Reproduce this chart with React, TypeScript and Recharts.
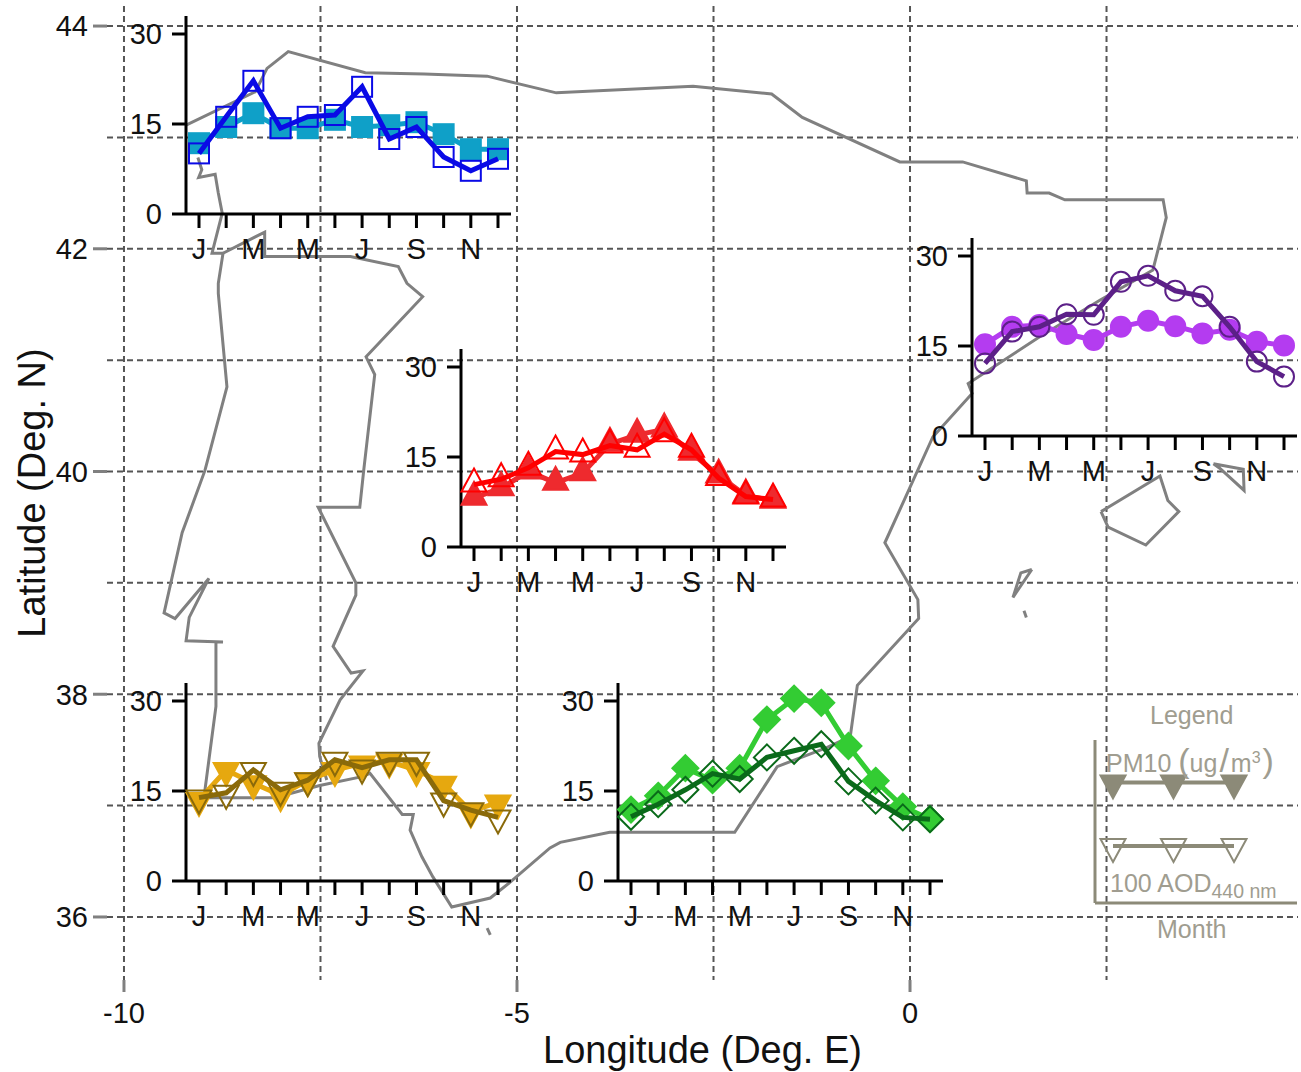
import React from 'react';
import {
  CartesianGrid,
  Line,
  LineChart,
  Scatter,
  ScatterChart,
  XAxis,
  YAxis,
} from 'recharts';

const FONT = '"Liberation Sans", Arial, sans-serif';

// map grid and ticks
const lonGrid = [-10, -7.5, -5, -2.5, 0, 2.5];
const latGrid = [36, 37, 38, 39, 40, 41, 42, 43, 44];
const lonTicks = [-10, -5, 0];
const latTicks = [36, 38, 40, 42, 44];

// coastline, [lon, lat]
const northAndEastCoast = [
  [-9.21, 43.11], [-8.33, 43.41], [-8.18, 43.62], [-7.91, 43.77], [-6.93, 43.58], [-6.18, 43.57],
  [-5.38, 43.55], [-4.5, 43.4], [-2.76, 43.46], [-1.76, 43.39], [-1.37, 43.18], [-0.13, 42.78],
  [0.67, 42.78], [1.48, 42.61], [1.49, 42.5], [1.77, 42.5], [1.97, 42.44], [3.22, 42.44],
  [3.26, 42.28], [3.22, 42.17], [3.09, 41.81], [2.42, 41.54], [1.65, 41.21], [0.74, 40.79],
  [0.79, 40.7], [0.29, 40.31], [-0.32, 39.36], [0.1, 38.85], [0.11, 38.68], [-0.67, 38.08],
  [-0.76, 37.62], [-1.06, 37.52], [-1.69, 37.35], [-2.23, 36.76], [-3.82, 36.76], [-4.45, 36.67],
  [-4.58, 36.62], [-5.09, 36.31], [-5.34, 36.17], [-5.83, 36.09], [-6.07, 36.36], [-6.21, 36.54],
  [-6.36, 36.78], [-6.32, 36.92], [-6.46, 36.92], [-6.87, 37.29], [-6.97, 37.26], [-7.51, 37.18],
  [-8.08, 37.07], [-8.93, 37.07], [-8.97, 37.14], [-8.83, 37.89], [-8.83, 38.47], [-8.74, 38.47],
  [-9.21, 38.48], [-9.17, 38.69], [-8.92, 39.04], [-9.35, 38.68], [-9.49, 38.73], [-9.26, 39.45],
  [-8.97, 40.01], [-8.69, 40.76], [-8.8, 41.6], [-8.8, 41.69], [-8.74, 41.96], [-8.88, 41.96],
  [-8.75, 42.32], [-8.8, 42.5], [-8.84, 42.67], [-9.05, 42.64], [-9.01, 42.71], [-9.06, 42.82],
];
const portugalBorder = [
  [-8.74, 41.96], [-8.21, 42.15], [-8.21, 41.93], [-7.12, 41.93], [-6.51, 41.84], [-6.4, 41.69],
  [-6.2, 41.57], [-6.92, 41.03], [-6.81, 40.87], [-6.95, 40.01], [-7.0, 39.68], [-7.53, 39.68],
  [-7.05, 39.0], [-7.05, 38.89], [-7.34, 38.43], [-7.11, 38.19], [-6.96, 38.21], [-7.25, 37.95],
  [-7.52, 37.56], [-7.51, 37.44], [-7.42, 37.23],
];
const ceuta = [[-5.38, 35.9], [-5.34, 35.84]];
const mallorca = [
  [2.43, 39.64], [3.18, 39.96], [3.28, 39.74], [3.42, 39.64], [3.0, 39.34], [2.52, 39.5], [2.43, 39.64],
];
const menorca = [[3.86, 40.07], [4.24, 40.02], [4.25, 39.83], [3.94, 40.03], [3.86, 40.07]];
const ibiza = [[1.55, 39.12], [1.41, 39.09], [1.31, 38.87], [1.55, 39.12]];
const formentera = [[1.45, 38.75], [1.48, 38.69]];
const coastParts = [northAndEastCoast, portugalBorder, ceuta, mallorca, menorca, ibiza, formentera];

// inset charts
const months = ['Jan', 'Feb', 'Mar', 'Apr', 'May', 'Jun', 'Jul', 'Aug', 'Sep', 'Oct', 'Nov', 'Dec'];
const monthLabels = ['J', '', 'M', '', 'M', '', 'J', '', 'S', '', 'N', ''];
const insetTicks = [0, 15, 30];

const bluePm10 = [11.8, 14.5, 16.8, 14.3, 14.3, 15.7, 14.5, 14.8, 15.3, 13.3, 10.8, 10.8];
const blueAod = [10.1, 16.2, 22.2, 14.3, 16.2, 16.5, 21.2, 12.5, 14.5, 9.5, 7.2, 9.2];
const purplePm10 = [15.3, 18.2, 18.5, 17.0, 16.0, 18.2, 19.2, 18.3, 17.1, 17.7, 15.7, 15.1];
const purpleAod = [12.1, 17.4, 18.2, 20.3, 20.2, 25.7, 26.7, 24.2, 23.3, 18.2, 12.4, 9.9];
const redPm10 = [8.2, 9.8, 12.6, 10.7, 12.3, 17.2, 18.7, 19.6, 15.7, 11.9, 8.6, 7.7];
const redAod = [10.4, 11.3, 13.2, 15.9, 15.4, 16.9, 16.2, 18.8, 16.2, 11.5, 8.4, 7.9];
const goldPm10 = [13.5, 18.5, 16.3, 14.3, 16.8, 18.5, 19.6, 19.9, 18.5, 16.2, 11.6, 13.1];
const goldAod = [13.9, 14.7, 18.5, 15.2, 16.8, 20.2, 18.9, 20.2, 20.2, 13.4, 11.8, 10.6];
const greenPm10 = [11.9, 14.2, 18.8, 16.8, 18.8, 26.9, 30.4, 29.7, 22.5, 16.7, 12.4, 10.3];
const greenAod = [10.7, 12.8, 15.2, 17.9, 17.0, 20.6, 21.7, 22.8, 16.6, 13.4, 10.6, 10.3];

// legend sample
const legendPoints = ['a', 'b', 'c'];
const legendPm10 = [74, 74, 74];
const legendAod = [35, 35, 35];

const toPoints = (part: number[][]) => part.map(([lon, lat]) => ({ lon, lat }));

function Marker({ kind, cx, cy, fill, stroke }: any) {
  const common = { fill, stroke, strokeWidth: 2 };
  if (kind === 'square') return <rect x={cx - 10} y={cy - 10} width={20} height={20} {...common} />;
  if (kind === 'circle') return <circle cx={cx} cy={cy} r={10} {...common} />;
  if (kind === 'up') return <path d={`M${cx} ${cy - 16}L${cx + 12.5} ${cy + 7}L${cx - 12.5} ${cy + 7}Z`} {...common} />;
  if (kind === 'down') return <path d={`M${cx} ${cy + 16}L${cx + 12.5} ${cy - 7}L${cx - 12.5} ${cy - 7}Z`} {...common} />;
  return <path d={`M${cx} ${cy - 13}L${cx + 13} ${cy}L${cx} ${cy + 13}L${cx - 13} ${cy}Z`} {...common} />;
}

const dotOf = (kind: string, fill: string, stroke: string) => (props: any) => (
  <Marker key={props.index} kind={kind} cx={props.cx} cy={props.cy} fill={fill} stroke={stroke} />
);

const axisStroke = { stroke: '#000', strokeWidth: 3 };
const X_PADDING = { left: 13, right: 13 };
const Y_DOMAIN = [0, 33];

function Inset({ axisX, zeroY, pm10, aod, kind, pmColor, aodColor }: any) {
  const data = months.map((month, i) => ({ month, pm10: pm10[i], aod: aod[i] }));
  const box: React.CSSProperties = { position: 'absolute', left: axisX - 60, top: zeroY - 218 };
  return (
    <>
      <div style={box}>
        <LineChart width={415} height={274} data={data} margin={{ top: 20, right: 30, bottom: 0, left: 0 }}>
          <XAxis
            dataKey="month"
            height={56}
            padding={X_PADDING}
            interval={0}
            tickSize={14}
            tickMargin={10}
            axisLine={axisStroke}
            tickLine={axisStroke}
            tick={{ fontSize: 29, fill: '#111', fontFamily: FONT }}
            tickFormatter={(_: string, i: number) => monthLabels[i]}
          />
          <YAxis
            width={60}
            domain={Y_DOMAIN}
            ticks={insetTicks}
            tickSize={14}
            tickMargin={10}
            axisLine={axisStroke}
            tickLine={axisStroke}
            tick={{ fontSize: 29, fill: '#111', fontFamily: FONT }}
          />
          <Line
            dataKey="pm10"
            stroke={pmColor}
            strokeWidth={5}
            dot={dotOf(kind, pmColor, pmColor)}
            isAnimationActive={false}
          />
        </LineChart>
      </div>
      {/* second layer, the AOD line has to sit on top of the filled PM10 markers */}
      <div style={box}>
        <LineChart width={415} height={274} data={data} margin={{ top: 20, right: 30, bottom: 56, left: 60 }}>
          <XAxis dataKey="month" hide padding={X_PADDING} />
          <YAxis hide domain={Y_DOMAIN} />
          <Line
            dataKey="aod"
            stroke={aodColor}
            strokeWidth={5}
            dot={dotOf(kind, 'none', aodColor)}
            isAnimationActive={false}
          />
        </LineChart>
      </div>
    </>
  );
}

function LegendPanel() {
  const data = legendPoints.map((p, i) => ({ p, pm10: legendPm10[i], aod: legendAod[i] }));
  const color = '#8c8a78';
  const axis = { stroke: color, strokeWidth: 3 };
  const text: React.CSSProperties = { position: 'absolute', whiteSpace: 'nowrap', color: '#a09d90', fontSize: 25, lineHeight: '30px' };
  return (
    <>
      <div style={{ position: 'absolute', left: 1090, top: 740 }}>
        <LineChart width={207} height={168} data={data} margin={{ top: 0, right: 0, bottom: 0, left: 0 }}>
          <XAxis dataKey="p" height={5} padding={{ left: 18, right: 63 }} tick={false} tickLine={false} axisLine={axis} />
          <YAxis width={5} domain={[0, 100]} tick={false} tickLine={false} axisLine={axis} />
          <Line dataKey="pm10" stroke={color} strokeWidth={4} dot={dotOf('down', color, color)} isAnimationActive={false} />
          <Line dataKey="aod" stroke={color} strokeWidth={4} dot={dotOf('down', 'none', color)} isAnimationActive={false} />
        </LineChart>
      </div>
      <div style={{ ...text, left: 1150, top: 700 }}>Legend</div>
      <div style={{ ...text, left: 1106, top: 745 }}>
        PM10 <span style={{ fontSize: 34 }}>(</span>ug<span style={{ fontSize: 34, margin: '0 2px' }}>/</span>m
        <sup style={{ fontSize: 16, lineHeight: 0 }}>3</sup>
        <span style={{ fontSize: 34, marginLeft: 2 }}>)</span>
      </div>
      <div style={{ ...text, left: 1110, top: 868 }}>
        100 AOD<sub style={{ fontSize: 19.5, lineHeight: 0 }}>440 nm</sub>
      </div>
      <div style={{ ...text, left: 1157, top: 914 }}>Month</div>
    </>
  );
}

export default function App() {
  return (
    <div style={{ position: 'absolute', left: 0, top: 0, width: 1301, height: 1072, overflow: 'hidden', background: '#fff', fontFamily: FONT }}>
      <div style={{ position: 'absolute', left: 0, top: 0 }}>
        <ScatterChart width={1301} height={1072} margin={{ top: 6, right: 3, bottom: 0, left: 0 }}>
          <CartesianGrid
            stroke="#555"
            strokeWidth={2}
            strokeDasharray="6 4"
            verticalValues={lonGrid}
            horizontalValues={latGrid}
          />
          <XAxis
            type="number"
            dataKey="lon"
            domain={[-10.216, 4.936]}
            ticks={lonTicks}
            height={92}
            tickSize={12}
            tickMargin={10}
            axisLine={false}
            tickLine={{ stroke: '#808080', strokeWidth: 3 }}
            tick={{ fontSize: 29, fill: '#111', fontFamily: FONT }}
            label={{ value: 'Longitude (Deg. E)', position: 'insideBottom', offset: 9, fontSize: 38, fill: '#111', fontFamily: FONT }}
          />
          <YAxis
            type="number"
            dataKey="lat"
            domain={[35.434, 44.18]}
            ticks={latTicks}
            width={107}
            tickSize={14}
            tickMargin={5}
            axisLine={false}
            tickLine={{ stroke: '#808080', strokeWidth: 3 }}
            tick={{ fontSize: 29, fill: '#111', fontFamily: FONT }}
            label={{ value: 'Latitude (Deg. N)', angle: -90, position: 'insideLeft', offset: 32, textAnchor: 'middle', fontSize: 38, fill: '#111', fontFamily: FONT }}
          />
          {coastParts.map((part, i) => (
            <Scatter
              key={i}
              data={toPoints(part)}
              line={{ stroke: '#808080', strokeWidth: 3 }}
              lineType="joint"
              shape={() => <g />}
              isAnimationActive={false}
            />
          ))}
        </ScatterChart>
      </div>

      <Inset axisX={186} zeroY={214} pm10={bluePm10} aod={blueAod} kind="square" pmColor="#0fa0c8" aodColor="#0a0ae6" />
      <Inset axisX={972} zeroY={436} pm10={purplePm10} aod={purpleAod} kind="circle" pmColor="#b43cf0" aodColor="#5c2088" />
      <Inset axisX={461} zeroY={547} pm10={redPm10} aod={redAod} kind="up" pmColor="#ee2a2e" aodColor="#ff0000" />
      <Inset axisX={186} zeroY={881} pm10={goldPm10} aod={goldAod} kind="down" pmColor="#e6a80f" aodColor="#8a6a0a" />
      <Inset axisX={618} zeroY={881} pm10={greenPm10} aod={greenAod} kind="diamond" pmColor="#33cc33" aodColor="#0a6a1a" />

      <LegendPanel />
    </div>
  );
}
